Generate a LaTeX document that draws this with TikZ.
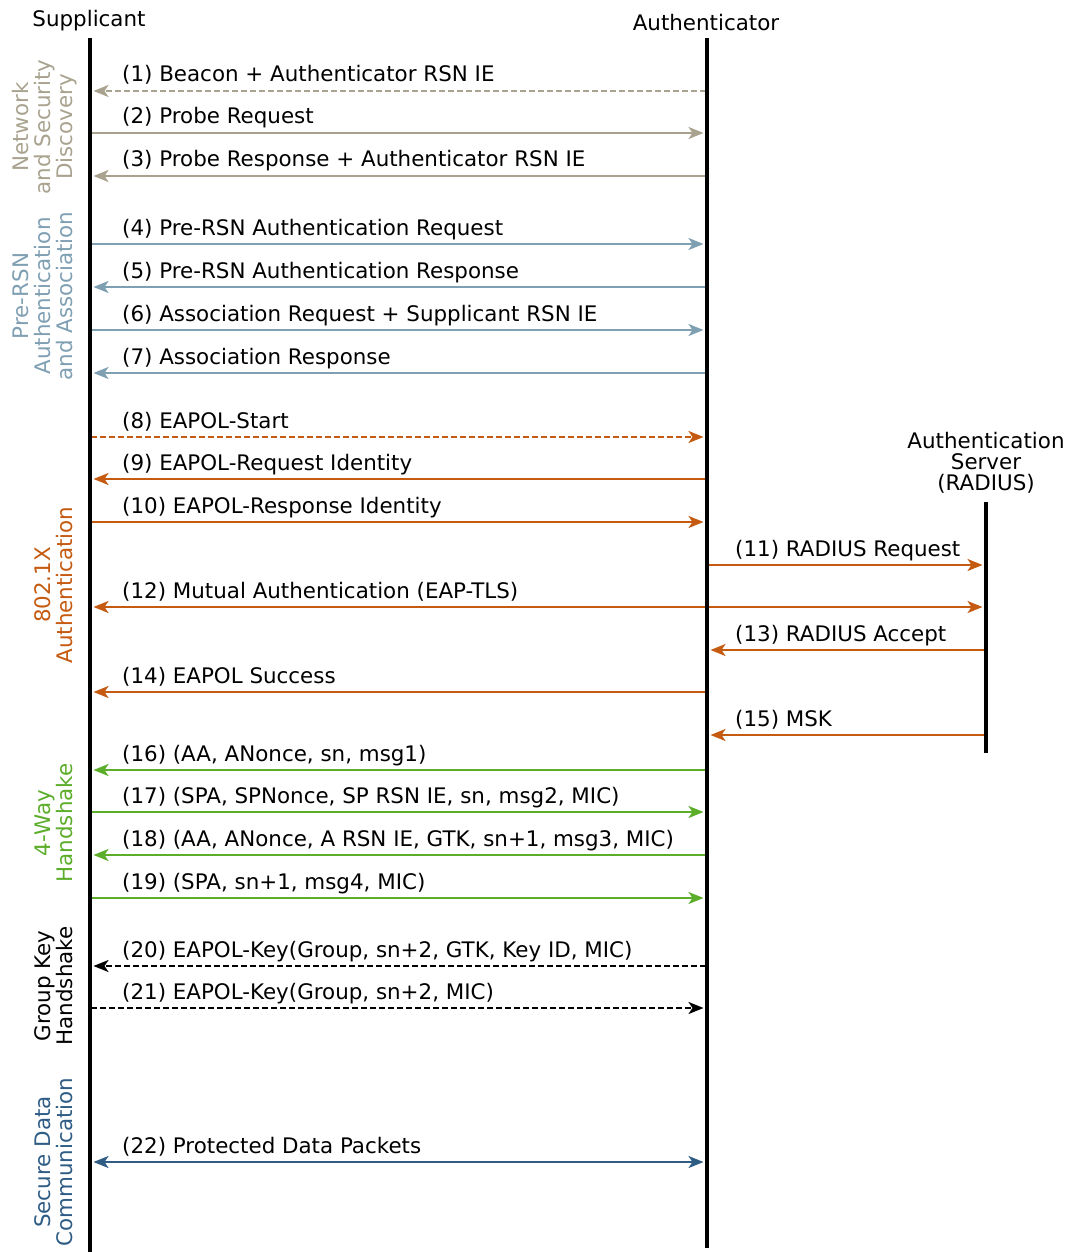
\documentclass[tikz,border=0pt]{standalone}
\usepackage{fontspec}
\setmainfont{DejaVu Sans}
\usetikzlibrary{arrows.meta}
\definecolor{disc}{HTML}{A8A28E}
\definecolor{prersn}{HTML}{7F9FB3}
\definecolor{dotx}{HTML}{C55A11}
\definecolor{fourway}{HTML}{5BAD2A}
\definecolor{secure}{HTML}{2E5C85}

% one message: style, from, to, y, label x, label
\newcommand\Msg[6]{%
  \draw[#1] (#2 |- 0,#4) -- (#3 |- 0,#4);
  \node[lbl] at (#5,#4-9) {#6};}

\begin{document}
\begin{tikzpicture}[x=1pt,y=-1pt,
  every node/.style={font=\fontsize{21.4}{22}\selectfont, inner sep=0pt},
  lifeline/.style={line width=3.5pt},
  tip/.tip={Stealth[length=15pt,width=12pt,inset=4pt]},
  msg/.style={line width=2.2pt, -tip, shorten >=3.5pt, shorten <=1pt},
  both/.style={line width=2.2pt, tip-tip, shorten >=3.5pt, shorten <=3.5pt},
  dsh/.style={dash pattern=on 6pt off 3pt},
  lbl/.style={anchor=base west},
  grp/.style={rotate=90, anchor=base},
]
\useasboundingbox (0,0) rectangle (1070,1252);

% participants
\node[anchor=base] (supH) at (89,27) {Supplicant};
\node[anchor=base] (authH) at (706,31) {Authenticator};
\node[anchor=base] (radH1) at (986,448) {Authentication};
\node[anchor=base] (radH2) at (986,469) {Server};
\node[anchor=base] (radH3) at (986,490) {(RADIUS)};

\coordinate (S0) at (90,38);  \coordinate (S1) at (90,1252);
\coordinate (A0) at (707,38); \coordinate (A1) at (707,1248);
\coordinate (R0) at (986,502); \coordinate (R1) at (986,753);

% phase labels
\node[grp, text=disc] (n1) at (28,127) {Network};
\node[grp, text=disc] (n2) at (50,127) {and Security};
\node[grp, text=disc] (n3) at (72,127) {Discovery};
\node[grp, text=prersn] (p1) at (28,296) {Pre-RSN};
\node[grp, text=prersn] (p2) at (50,296) {Authentication};
\node[grp, text=prersn] (p3) at (72,296) {and Association};
\node[grp, text=dotx] (x1) at (50,585) {802.1X};
\node[grp, text=dotx] (x2) at (72,585) {Authentication};
\node[grp, text=fourway] (f1) at (50,823) {4-Way};
\node[grp, text=fourway] (f2) at (72,823) {Handshake};
\node[grp] (k1) at (50,986) {Group Key};
\node[grp] (k2) at (72,986) {Handshake};
\node[grp, text=secure] (c1) at (50,1162) {Secure Data};
\node[grp, text=secure] (c2) at (72,1162) {Communication};

% network and security discovery
\Msg{msg,dsh,disc}{A0}{S0}{91}{122}{(1) Beacon + Authenticator RSN IE}
\Msg{msg,disc}{S0}{A0}{133}{122}{(2) Probe Request}
\Msg{msg,disc}{A0}{S0}{176}{122}{(3) Probe Response + Authenticator RSN IE}
% pre-RSN authentication and association
\Msg{msg,prersn}{S0}{A0}{244}{122}{(4) Pre-RSN Authentication Request}
\Msg{msg,prersn}{A0}{S0}{287}{122}{(5) Pre-RSN Authentication Response}
\Msg{msg,prersn}{S0}{A0}{330}{122}{(6) Association Request + Supplicant RSN IE}
\Msg{msg,prersn}{A0}{S0}{373}{122}{(7) Association Response}
% 802.1X authentication
\Msg{msg,dsh,dotx}{S0}{A0}{437}{122}{(8) EAPOL-Start}
\Msg{msg,dotx}{A0}{S0}{479}{122}{(9) EAPOL-Request Identity}
\Msg{msg,dotx}{S0}{A0}{522}{122}{(10) EAPOL-Response Identity}
\Msg{msg,dotx}{A0}{R0}{565}{735}{(11) RADIUS Request}
\Msg{both,dotx}{S0}{R0}{607}{122}{(12) Mutual Authentication (EAP-TLS)}
\Msg{msg,dotx}{R0}{A0}{650}{735}{(13) RADIUS Accept}
\Msg{msg,dotx}{A0}{S0}{692}{122}{(14) EAPOL Success}
\Msg{msg,dotx}{R0}{A0}{735}{735}{(15) MSK}
% 4-way handshake
\Msg{msg,fourway}{A0}{S0}{770}{122}{(16) (AA, ANonce, sn, msg1)}
\Msg{msg,fourway}{S0}{A0}{812}{122}{(17) (SPA, SPNonce, SP RSN IE, sn, msg2, MIC)}
\Msg{msg,fourway}{A0}{S0}{855}{122}{(18) (AA, ANonce, A RSN IE, GTK, sn+1, msg3, MIC)}
\Msg{msg,fourway}{S0}{A0}{898}{122}{(19) (SPA, sn+1, msg4, MIC)}
% group key handshake
\Msg{msg,dsh}{A0}{S0}{966}{122}{(20) EAPOL-Key(Group, sn+2, GTK, Key ID, MIC)}
\Msg{msg,dsh}{S0}{A0}{1008}{122}{(21) EAPOL-Key(Group, sn+2, MIC)}
% secure data communication
\Msg{both,secure}{S0}{A0}{1162}{122}{(22) Protected Data Packets}

% lifelines on top
\draw[lifeline] (S0) -- (S1);
\draw[lifeline] (A0) -- (A1);
\draw[lifeline] (R0) -- (R1);
\end{tikzpicture}
\end{document}
